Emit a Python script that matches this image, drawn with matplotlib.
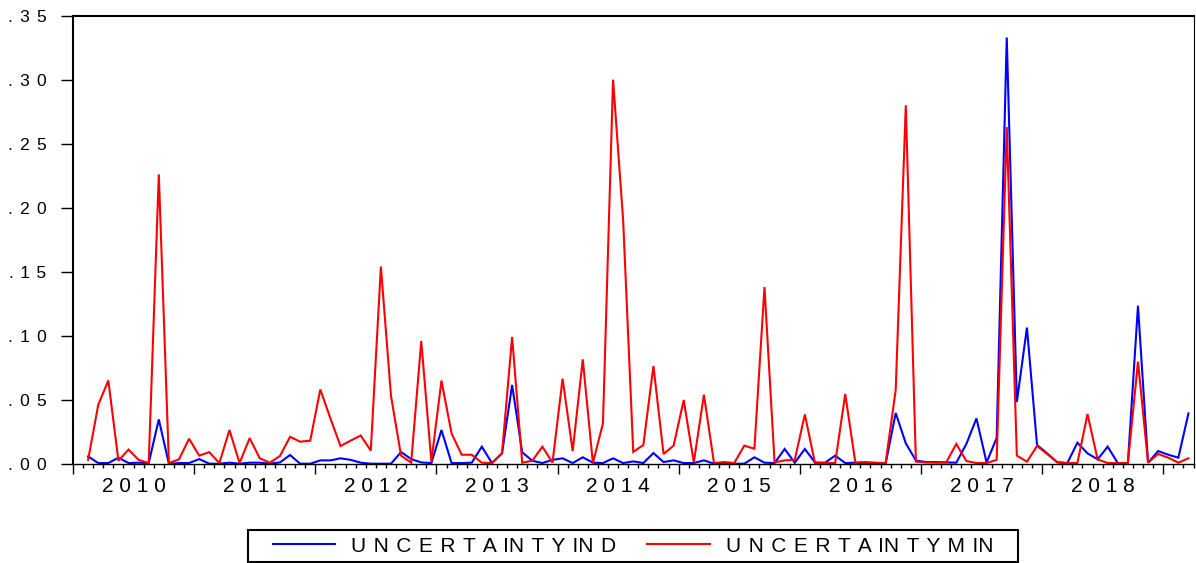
import matplotlib
matplotlib.use("Agg")
import matplotlib.pyplot as plt
from matplotlib.lines import Line2D
from matplotlib.patches import Rectangle
from matplotlib.ticker import FixedLocator, MultipleLocator, NullFormatter
import pandas as pd

# ---------------- data ----------------
dates = pd.period_range("2010-02", "2019-03", freq="M")

uncertainty_ind = [
    0.0057, 0.0005, 0.0005, 0.0047, 0.0005, 0.0008, 0.0005, 0.0346, 0.0, 0.0005,
    0.0005, 0.0036, 0.0, 0.0, 0.0008, 0.0, 0.0008, 0.0008, 0.0, 0.001,
    0.0068, 0.0, 0.0, 0.0026, 0.0026, 0.0042, 0.003, 0.0008, 0.0, 0.0,
    0.0, 0.0091, 0.0036, 0.001, 0.0005, 0.0263, 0.0005, 0.0005, 0.0008, 0.0133,
    0.0005, 0.008, 0.0615, 0.0089, 0.0023, 0.0005, 0.003, 0.0042, 0.0005, 0.005,
    0.0008, 0.0005, 0.0042, 0.0005, 0.0018, 0.0005, 0.0083, 0.0013, 0.0026, 0.0005,
    0.0005, 0.0026, 0.0, 0.0, 0.0, 0.0, 0.005, 0.0008, 0.0005, 0.0115,
    0.0008, 0.0115, 0.001, 0.0008, 0.0063, 0.0005, 0.0008, 0.0, 0.0, 0.0,
    0.0396, 0.0159, 0.0025, 0.0013, 0.0013, 0.001, 0.0008, 0.0154, 0.0354, 0.001,
    0.020, 0.333, 0.0482, 0.1063, 0.0146, 0.0081, 0.001, 0.0005, 0.0164, 0.0081,
    0.0034, 0.0133, 0.0005, 0.0005, 0.1234, 0.0008, 0.0099, 0.007, 0.0047, 0.0393,
]

uncertainty_min = [
    0.003, 0.046, 0.065, 0.0023, 0.011, 0.003, 0.0005, 0.226, 0.0005, 0.0034,
    0.0195, 0.0063, 0.009, 0.0005, 0.0263, 0.0005, 0.020, 0.0042, 0.0008, 0.006,
    0.021, 0.0172, 0.018, 0.058, 0.0354, 0.0138, 0.018, 0.022, 0.0102, 0.154,
    0.053, 0.0063, 0.0008, 0.0958, 0.0016, 0.065, 0.0237, 0.007, 0.007, 0.0008,
    0.0005, 0.0083, 0.099, 0.0008, 0.0023, 0.0133, 0.0008, 0.0664, 0.0099, 0.0815,
    0.0005, 0.0315, 0.300, 0.190, 0.0092, 0.0146, 0.0763, 0.0076, 0.0141, 0.0497,
    0.001, 0.0539, 0.0005, 0.0013, 0.0005, 0.0141, 0.0117, 0.138, 0.001, 0.0026,
    0.003, 0.0385, 0.0005, 0.0005, 0.0005, 0.0544, 0.001, 0.0013, 0.0008, 0.0005,
    0.0576, 0.280, 0.0016, 0.001, 0.0008, 0.001, 0.0154, 0.0021, 0.0005, 0.0005,
    0.003, 0.263, 0.0063, 0.0016, 0.0138, 0.0076, 0.0013, 0.0005, 0.0005, 0.0388,
    0.0034, 0.0005, 0.0005, 0.0005, 0.0797, 0.0008, 0.0076, 0.0047, 0.0008, 0.0042,
]

year_labels = ["2010", "2011", "2012", "2013", "2014", "2015", "2016", "2017", "2018"]
y_ticks = [0.00, 0.05, 0.10, 0.15, 0.20, 0.25, 0.30, 0.35]
y_tick_labels = [".00", ".05", ".10", ".15", ".20", ".25", ".30", ".35"]
legend_labels = ["UNCERTAINTYIND", "UNCERTAINTYMIN"]

# ---------------- figure ----------------
FAM = ["Liberation Sans", "DejaVu Sans"]
plt.rcParams["font.family"] = FAM

W, H = 1196, 563
fig = plt.figure(figsize=(W / 100, H / 100), dpi=100)
renderer = fig.canvas.get_renderer()


def tokens(s):
    # letter-spaced look: an "I" sits tight against the following "N"
    out, i = [], 0
    while i < len(s):
        if s[i] == "I" and i + 1 < len(s) and s[i + 1] == "N":
            out.append("IN")
            i += 2
        else:
            out.append(s[i])
            i += 1
    return out


def text_width(s, fs):
    t = fig.text(0, 0, s, fontsize=fs)
    w = t.get_window_extent(renderer).width
    t.remove()
    return w


def letter_spaced(s, fs, target_px, split_in=False):
    parts = tokens(s) if split_in else list(s)
    best, best_err = None, None
    for base in ["", " ", "\u2004", "\u2002"]:
        for n in range(0, 8):
            sp = base + "\u200a" * n
            if not sp:
                continue
            cand = sp.join(parts)
            err = abs(text_width(cand, fs) - target_px)
            if best_err is None or err < best_err:
                best, best_err = cand, err
    return best


ax = fig.add_axes([73 / W, (H - 463.7) / H, 1120.5 / W, 448 / H])

start_year = 2010
x = [(d.year - start_year) * 12 + (d.month - 1) + 0.5 for d in dates]

ax.plot(x, uncertainty_ind, color=(0, 0, 1), lw=1.5, solid_joinstyle="miter")
ax.plot(x, uncertainty_min, color=(1, 0, 0), lw=1.5, solid_joinstyle="miter")

n_months = (dates[-1].year - start_year) * 12 + dates[-1].month
ax.set_xlim(0, n_months)
ax.set_ylim(0, 0.35)

# y axis
YFS = 12.5
ax.yaxis.set_major_locator(FixedLocator(y_ticks))
ax.set_yticklabels([letter_spaced(t, YFS, 38) for t in y_tick_labels], fontsize=YFS)
ax.tick_params(axis="y", direction="out", length=9, width=1.0, pad=10, right=False)

# x axis: year boundaries major, months minor
ax.xaxis.set_major_locator(MultipleLocator(12))
ax.xaxis.set_minor_locator(MultipleLocator(1))
ax.xaxis.set_major_formatter(NullFormatter())
ax.tick_params(axis="x", which="major", direction="out", length=7, width=1.0)
ax.tick_params(axis="x", which="minor", direction="out", length=3.2, width=1.0)

XFS = 15
for i, lab in enumerate(year_labels):
    ax.text(i * 12 + 6, -0.052, letter_spaced(lab, XFS, 65),
            transform=ax.get_xaxis_transform(), ha="center", va="center", fontsize=XFS)

for side, lw in (("left", 1.5), ("top", 1.5), ("right", 0.8), ("bottom", 1.0)):
    ax.spines[side].set_linewidth(lw)
    ax.spines[side].set_color("black")

# legend: frameless entries inside a separately drawn box
LFS = 15
handles = [Line2D([], [], color=(0, 0, 1), lw=1.5), Line2D([], [], color=(1, 0, 0), lw=1.5)]
labels = [letter_spaced(l, LFS, 267, split_in=True) for l in legend_labels]
leg = fig.legend(handles, labels, loc="center",
                 bbox_to_anchor=(633 / W, 17 / H), ncol=2, fontsize=LFS,
                 frameon=False, handlelength=3.0, handletextpad=0.75,
                 columnspacing=1.5, borderpad=0.25, borderaxespad=0)
fig.add_artist(Rectangle((248 / W, 1.5 / H), 770 / W, 31.5 / H,
                         transform=fig.transFigure, fill=True, facecolor="white",
                         edgecolor="black", lw=1.5, zorder=0))

fig.savefig("out.png", dpi=100)
